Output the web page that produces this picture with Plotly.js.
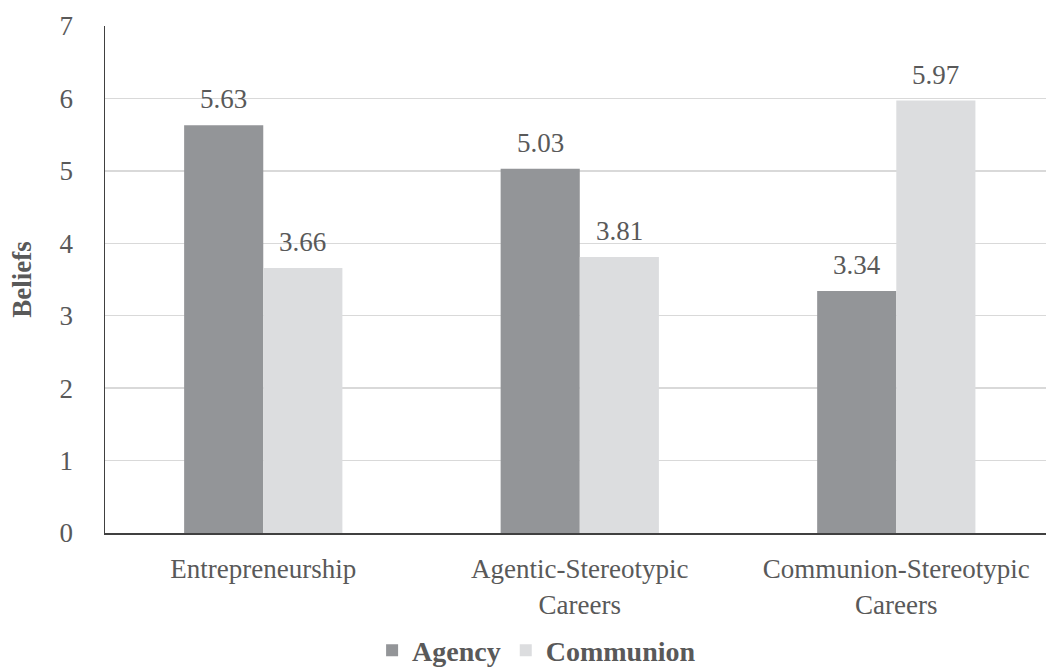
<!DOCTYPE html>
<html>
<head>
<meta charset="utf-8">
<script src="https://cdn.plot.ly/plotly-3.0.1.min.js"></script>
<style>
  html, body { margin: 0; padding: 0; background: #ffffff; }
  #chart { width: 1046px; height: 668px; }
</style>
</head>
<body>
<div id="chart"></div>
<script>
// Career categories (line breaks as shown under the axis)
const categories = ["Entrepreneurship", "Agentic-Stereotypic<br>Careers", "Communion-Stereotypic<br>Careers"];
// Mean belief ratings per dimension
const agencyValues = [5.63, 5.03, 3.34];
const communionValues = [3.66, 3.81, 5.97];
const seriesNames = ["Agency", "Communion"];
const yTickValues = [0, 1, 2, 3, 4, 5, 6, 7];

const serif = "Liberation Serif, Times New Roman, serif";
const textGray = "#595959";
const labelFont = { family: serif, size: 27, color: textGray };

function barTrace(name, values, color) {
  return {
    type: "bar",
    name: name,
    x: categories,
    y: values,
    marker: { color: color, line: { width: 0 } },
    hoverinfo: "skip"
  };
}

const data = [
  barTrace(seriesNames[0], agencyValues, "#939598"),
  barTrace(seriesNames[1], communionValues, "#dcdddf")
];

// Value labels above each bar; each group holds two bars a quarter category wide
const groupSeries = [agencyValues, communionValues];
const barOffsets = [-0.125, 0.125];
const annotations = [];
groupSeries.forEach((values, s) => {
  values.forEach((v, i) => {
    annotations.push({
      x: i + barOffsets[s],
      y: v,
      xref: "x",
      yref: "y",
      text: v.toFixed(2),
      showarrow: false,
      yanchor: "middle",
      yshift: 26,
      font: labelFont
    });
  });
});

const layout = {
  width: 1046,
  height: 668,
  margin: { l: 105, r: 0, t: 26, b: 135 },
  paper_bgcolor: "#ffffff",
  plot_bgcolor: "#ffffff",
  barmode: "group",
  bargap: 0.5,
  bargroupgap: 0,
  font: labelFont,
  annotations: annotations,
  xaxis: {
    type: "category",
    range: [-0.5, 2.473],
    showgrid: false,
    zeroline: false,
    showline: true,
    linecolor: "#404040",
    linewidth: 2,
    ticks: "",
    ticklabelstandoff: 11,
    tickfont: labelFont,
    automargin: false,
    fixedrange: true
  },
  yaxis: {
    range: [0, 7],
    tickvals: yTickValues,
    ticktext: yTickValues.map(String),
    showgrid: true,
    gridcolor: "#d9d9d9",
    gridwidth: 1.5,
    zeroline: false,
    showline: true,
    linecolor: "#404040",
    linewidth: 1.5,
    ticks: "",
    ticklabelstandoff: 25,
    tickfont: labelFont,
    title: {
      text: "<b>Beliefs</b>",
      font: labelFont,
      standoff: 20
    },
    automargin: false,
    fixedrange: true
  },
  showlegend: true,
  legend: {
    orientation: "h",
    x: 0.513,
    xanchor: "center",
    xref: "container",
    yref: "container",
    y: 0.026,
    yanchor: "middle",
    font: { family: serif, size: 28, color: textGray, weight: "bold" },
    itemwidth: 30,
    tracegroupgap: 0
  }
};

Plotly.newPlot("chart", data, layout, { displayModeBar: false, staticPlot: true });
</script>
</body>
</html>
